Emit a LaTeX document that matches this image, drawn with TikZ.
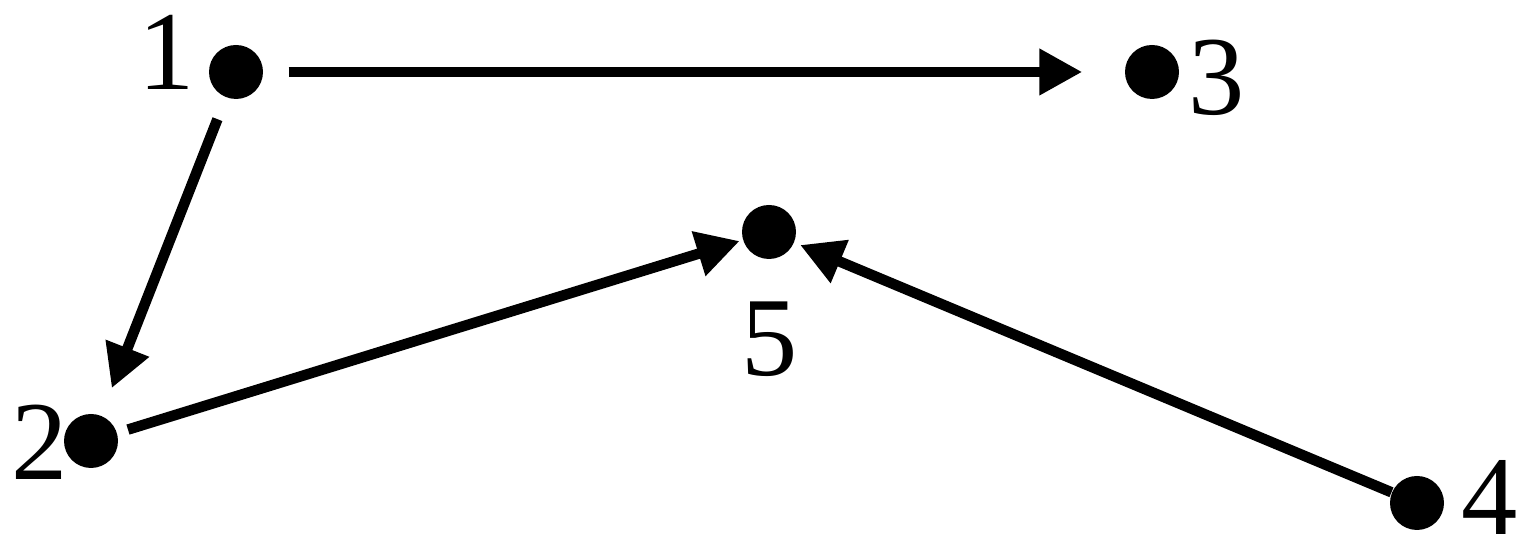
\documentclass[tikz,border=0pt]{standalone}
\usepackage{fontspec}
\setmainfont{Liberation Serif}
\usepackage{tikz}
\usetikzlibrary{arrows.meta, positioning}
\tikzset{
  vtx/.style={circle, fill=black, minimum size=5.4mm, inner sep=0pt},
  vlbl/.style={inner sep=0pt},
  arc/.style={line width=1.05mm, -{Triangle[length=4.3mm, width=4.4mm]}}
}

\begin{document}
\begin{tikzpicture}[font=\fontsize{32}{38}\selectfont]
    \useasboundingbox (0,0) rectangle (15.2,5.44);
    % vertices
    \node[vtx] (v1) at (2.36,4.72) {};
    \node[vtx] (v3) at (11.52,4.72) {};
    \node[vtx] (v5) at (7.69,3.12) {};
    \node[vtx] (v2) at (0.91,1.03) {};
    \node[vtx] (v4) at (14.17,0.41) {};
    % labels
    \node[vlbl] (l1) at (1.67,4.92) {1};
    \node[vlbl] (l3) at (12.17,4.66) {3};
    \node[vlbl] (l5) at (7.70,2.05) {5};
    \node[vlbl] (l2) at (0.40,1.02) {2};
    \node[vlbl] (l4) at (14.90,0.46) {4};
    % arcs
    \draw[arc, shorten <=2.5mm, shorten >=4.2mm] (v1) -- (v3);
    \draw[arc, shorten <=2.3mm, shorten >=2.9mm] (v1) -- (v2);
    \draw[arc, shorten <=1.1mm, shorten >=0.3mm] (v2) -- (v5);
    \draw[arc, shorten >=0.6mm] (v4) -- (v5);
  \end{tikzpicture}
\end{document}
